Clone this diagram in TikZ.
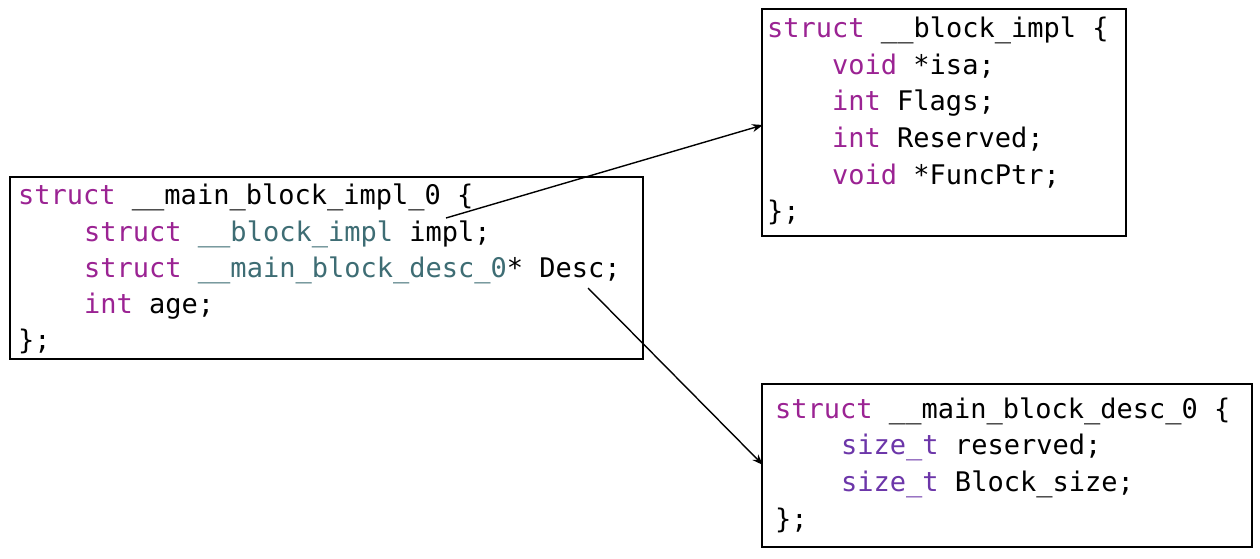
\documentclass[tikz,border=0pt]{standalone}
\usepackage{fontspec}
\newfontfamily\codefont{DejaVu Sans Mono}
\usetikzlibrary{arrows.meta}
\definecolor{kw}{HTML}{9B2393}
\definecolor{ty}{HTML}{3E6D74}
\definecolor{st}{HTML}{6C36A9}
\newcommand{\kw}[1]{\textcolor{kw}{#1}}
\newcommand{\ty}[1]{\textcolor{ty}{#1}}
\newcommand{\st}[1]{\textcolor{st}{#1}}
\begin{document}
\begin{tikzpicture}[x=1pt,y=-1pt,
  structbox/.style={draw=black,line width=1.8pt,fill=white,anchor=north west,inner sep=0pt},
  codeline/.style={anchor=base west,inner sep=0pt,font=\codefont\fontsize{27}{32}\selectfont},
  pointer/.style={-{Stealth[length=11pt,width=8pt]},line width=1.4pt}]
\useasboundingbox (0,0) rectangle (1260,558);

% struct __main_block_impl_0
\node[structbox,minimum width=633pt,minimum height=182pt] (mainbox) at (9,176) {};
\node[codeline] (m1) at (18,204) {\kw{struct} \_\_main\_block\_impl\_0 \{};
\node[codeline] (m2) at (84,241) {\kw{struct} \ty{\_\_block\_impl} impl;};
\node[codeline] (m3) at (84,277) {\kw{struct} \ty{\_\_main\_block\_desc\_0}* Desc;};
\node[codeline] (m4) at (84,313) {\kw{int} age;};
\node[codeline] (m5) at (18,349) {\};};

% struct __block_impl
\node[structbox,minimum width=364pt,minimum height=227pt] (implbox) at (761,8) {};
\node[codeline] (b1) at (767,37) {\kw{struct} \_\_block\_impl \{};
\node[codeline] (b2) at (832,74) {\kw{void} *isa;};
\node[codeline] (b3) at (832,110) {\kw{int} Flags;};
\node[codeline] (b4) at (832,147) {\kw{int} Reserved;};
\node[codeline] (b5) at (832,184) {\kw{void} *FuncPtr;};
\node[codeline] (b6) at (767,220) {\};};

% struct __main_block_desc_0
\node[structbox,minimum width=490pt,minimum height=163pt] (descbox) at (761,383) {};
\node[codeline] (d1) at (775,418) {\kw{struct} \_\_main\_block\_desc\_0 \{};
\node[codeline] (d2) at (841,454) {\st{size\_t} reserved;};
\node[codeline] (d3) at (841,491) {\st{size\_t} Block\_size;};
\node[codeline] (d4) at (775,528) {\};};

% pointers from the fields to their struct definitions
\coordinate (implfield) at (446,218);
\coordinate (descfield) at (588,288);
\coordinate (implin) at (763,125);
\coordinate (descin) at (763,465);
\draw[pointer] (implfield) -- (implin);
\draw[pointer] (descfield) -- (descin);
\end{tikzpicture}
\end{document}
